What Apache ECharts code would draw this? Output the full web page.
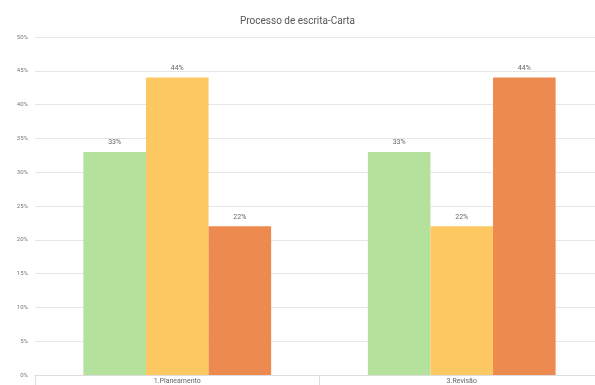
<!DOCTYPE html>
<html>
<head>
<meta charset="utf-8">
<script src="https://cdn.jsdelivr.net/npm/echarts@6/dist/echarts.min.js"></script>
<style>
  html, body { margin: 0; padding: 0; background: #fff; }
  #chart { width: 595px; height: 385px; }
</style>
</head>
<body>
<div id="chart"></div>
<script>
// Writing-process stages and the share of answers per group (percent)
const categories = ['1.Planeamento', '3.Revisão'];
const seriesA = [33, 33];
const seriesB = [44, 22];
const seriesC = [22, 44];
const yTicks = [0, 50, 5];

const colors = ['#b4e29d', '#fdc862', '#ec8a4f'];

const labelStyle = {
  show: true,
  position: 'top',
  formatter: p => p.value + '%',
  fontSize: 7,
  color: '#666',
  fontFamily: 'Roboto',
  distance: 6
};

function barSeries(name, data, color) {
  return {
    name: name,
    type: 'bar',
    data: data,
    barGap: '0%',
    barCategoryGap: '34%',
    itemStyle: { color: color },
    label: labelStyle
  };
}

const chart = echarts.init(document.getElementById('chart'), null, { renderer: 'canvas' });
chart.setOption({
  animation: false,
  backgroundColor: '#fff',
  title: {
    text: 'Processo de escrita-Carta',
    left: 'center',
    top: 11,
    textStyle: { fontSize: 10, fontWeight: 'normal', color: '#555', fontFamily: 'Roboto' }
  },
  grid: {
    left: 35, right: -9, top: 37, bottom: 10,
    containLabel: false,
    outerBoundsMode: 'none'
  },
  xAxis: {
    type: 'category',
    data: categories,
    axisLine: { show: true, lineStyle: { color: '#ddd', width: 1 } },
    axisTick: { show: true, length: 10, lineStyle: { color: '#ddd' } },
    axisLabel: { fontSize: 7, color: '#666', margin: 3, fontFamily: 'Roboto' }
  },
  yAxis: {
    type: 'value',
    min: yTicks[0],
    max: yTicks[1],
    interval: yTicks[2],
    axisLine: { show: false },
    axisTick: { show: false },
    axisLabel: { formatter: '{value}%', fontSize: 6, color: '#777', margin: 7, fontFamily: 'Roboto' },
    splitLine: { lineStyle: { color: '#e6e6e6', width: 1 } }
  },
  series: [
    barSeries('A', seriesA, colors[0]),
    barSeries('B', seriesB, colors[1]),
    barSeries('C', seriesC, colors[2])
  ]
});
</script>
</body>
</html>
